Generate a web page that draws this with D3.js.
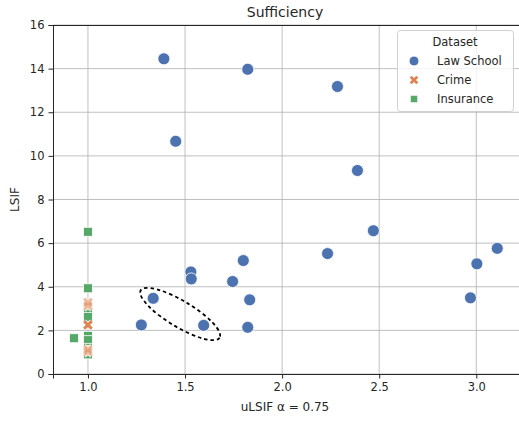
<!DOCTYPE html>
<html><head><meta charset="utf-8">
<script src="https://cdn.jsdelivr.net/npm/d3@7"></script>
<style>body{margin:0;background:#fff;} text{font-family:"DejaVu Sans",sans-serif;}</style>
</head><body>
<svg id="c" width="519" height="421"></svg>
<script>
const lawX = [1.391,1.823,2.285,1.452,2.388,2.470,3.108,2.234,3.003,1.800,1.530,1.532,1.745,1.336,1.833,2.970,1.275,1.596,1.823];
const lawY = [14.45,13.97,13.18,10.67,9.33,6.57,5.76,5.52,5.05,5.20,4.68,4.36,4.24,3.47,3.40,3.49,2.25,2.23,2.14];
const crimeX = [1.0,1.0,1.0,1.0,1.0];
const crimeY = [3.28,3.12,2.25,1.13,1.01];
const insX = [1.0,1.0,1.0,1.0,1.0,1.0,1.0,1.0,1.0,1.0,0.928];
const insY = [6.52,3.93,2.95,2.80,2.62,1.75,1.55,1.20,0.90,1.10,1.64];
const xTicks = [1.0,1.5,2.0,2.5,3.0];
const yTicks = [0,2,4,6,8,10,12,14,16];
const seriesNames = ["Law School","Crime","Insurance"];
const colors = ["#4C72B0","#DD8452","#55A868"];
const ellipseCenter = [1.475, 2.75];

const svg = d3.select("#c");
const L=53,T=25,R=519,B=374;
const x = d3.scaleLinear().domain([0.82,3.22]).range([L,R]);
const y = d3.scaleLinear().domain([0,16]).range([B,T]);

// grid
const g = svg.append("g");
g.selectAll(".gx").data(xTicks).enter().append("line")
  .attr("x1",d=>x(d)).attr("x2",d=>x(d)).attr("y1",T).attr("y2",B)
  .attr("stroke","#b0b0b0").attr("stroke-opacity",0.8).attr("stroke-width",1);
g.selectAll(".gy").data(yTicks).enter().append("line")
  .attr("y1",d=>y(d)).attr("y2",d=>y(d)).attr("x1",L).attr("x2",R)
  .attr("stroke","#b0b0b0").attr("stroke-opacity",0.8).attr("stroke-width",1);

// axes
const xa = svg.append("g").attr("transform",`translate(0,${B})`)
  .call(d3.axisBottom(x).tickValues(xTicks).tickFormat(d3.format(".1f")).tickSize(4.5).tickPadding(4));
const ya = svg.append("g").attr("transform",`translate(${L},0)`)
  .call(d3.axisLeft(y).tickValues(yTicks).tickFormat(d3.format("d")).tickSize(4.5).tickPadding(4));
[xa,ya].forEach(a=>{
  a.selectAll("text").attr("font-size","11.5px").attr("fill","#262626").attr("font-family","DejaVu Sans");
  a.selectAll("line").attr("stroke","#262626");
  a.select(".domain").attr("stroke","#262626");
});
svg.append("line").attr("x1",L).attr("x2",R).attr("y1",T+0.5).attr("y2",T+0.5).attr("stroke","#262626");

// points
const law = lawX.map((v,i)=>({x:v,y:lawY[i]}));
const crime = crimeX.map((v,i)=>({x:v,y:crimeY[i]}));
const ins = insX.map((v,i)=>({x:v,y:insY[i]}));
svg.append("g").selectAll("circle").data(law).enter().append("circle")
  .attr("cx",d=>x(d.x)).attr("cy",d=>y(d.y)).attr("r",6)
  .attr("fill",colors[0]).attr("stroke","#fff").attr("stroke-width",0.8);
svg.append("g").selectAll("rect").data(ins).enter().append("rect")
  .attr("x",d=>x(d.x)-4.5).attr("y",d=>y(d.y)-4.5).attr("width",9).attr("height",9)
  .attr("fill",colors[2]).attr("stroke","#fff").attr("stroke-width",0.8);
const xSym = d3.symbol().type(d3.symbolX).size(40);
const cg = svg.append("g");
cg.selectAll(".cw").data(crime).enter().append("path")
  .attr("d",xSym).attr("transform",d=>`translate(${x(d.x)},${y(d.y)})`)
  .attr("fill","none").attr("stroke","#fff").attr("stroke-width",4.6);
cg.selectAll(".co").data(crime).enter().append("path")
  .attr("d",xSym).attr("transform",d=>`translate(${x(d.x)},${y(d.y)})`)
  .attr("fill","none").attr("stroke",colors[1]).attr("stroke-width",3)
  .attr("stroke-opacity",(d,i)=>i===2?1:0.55);

// ellipse annotation
svg.append("ellipse")
  .attr("transform",`translate(${x(ellipseCenter[0])},${y(ellipseCenter[1])}) rotate(31)`)
  .attr("rx",46).attr("ry",13)
  .attr("fill","none").attr("stroke","#000").attr("stroke-width",1.8).attr("stroke-dasharray","3.5,3");

// labels
svg.append("text").attr("x",(L+517)/2).attr("y",17).attr("text-anchor","middle")
  .attr("font-size","14px").attr("fill","#262626").text("Sufficiency");
svg.append("text").attr("x",(L+517)/2).attr("y",411).attr("text-anchor","middle")
  .attr("font-size","12px").attr("fill","#262626").text("uLSIF α = 0.75");
svg.append("text").attr("transform",`translate(19,${(T+B)/2}) rotate(-90)`).attr("text-anchor","middle")
  .attr("font-size","12px").attr("fill","#262626").text("LSIF");

// legend
const lg = svg.append("g");
lg.append("rect").attr("x",397.5).attr("y",30.5).attr("width",116).attr("height",81).attr("rx",3)
  .attr("fill","#fff").attr("fill-opacity",0.8).attr("stroke","#d0d0d0");
lg.append("text").attr("x",455).attr("y",46).attr("text-anchor","middle").attr("font-size","11.5px").attr("fill","#262626").text("Dataset");
seriesNames.forEach((n,i)=>{
  const cy = 61 + i*19;
  if(i===0) lg.append("circle").attr("cx",414).attr("cy",cy).attr("r",5).attr("fill",colors[0]).attr("stroke","#fff");
  if(i===1) lg.append("path").attr("d",d3.symbol().type(d3.symbolX).size(30)).attr("transform",`translate(414,${cy})`).attr("stroke",colors[1]).attr("stroke-width",2.8).attr("fill","none");
  if(i===2) lg.append("rect").attr("x",410.5).attr("y",cy-3.5).attr("width",7).attr("height",7).attr("fill",colors[2]).attr("stroke","#fff").attr("stroke-width",0.5);
  lg.append("text").attr("x",437).attr("y",cy+4).attr("font-size","11.5px").attr("fill","#262626").text(n);
});
</script>
</body></html>
